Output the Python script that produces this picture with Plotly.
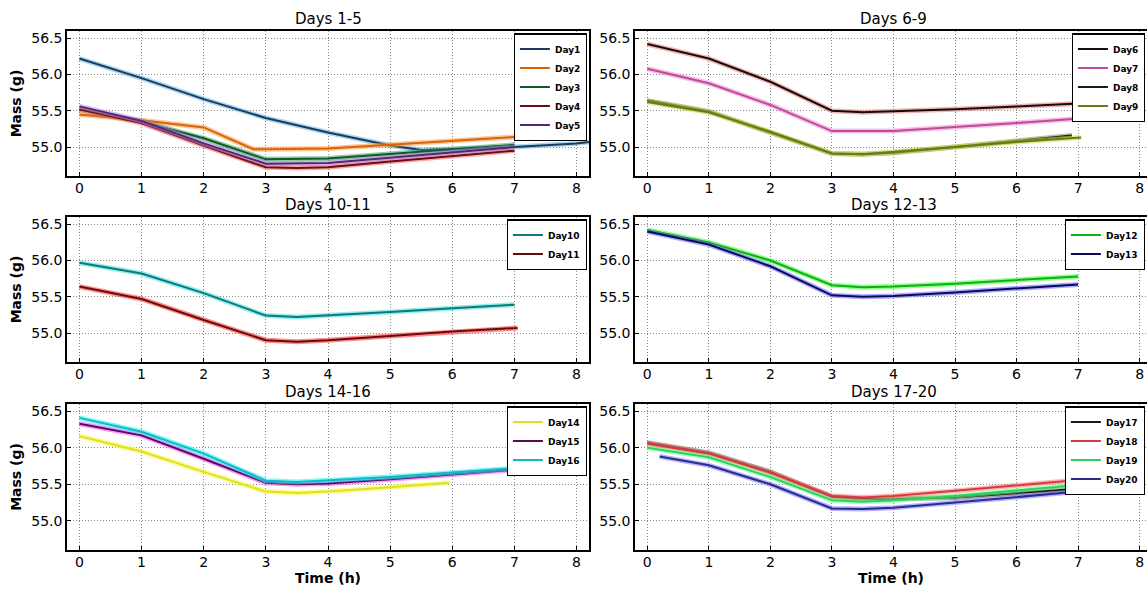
import plotly.graph_objects as go

# ---------------- data ----------------
# Days 1-5
day1_t = [0, 1, 2, 3, 4, 5, 5.5, 6, 7, 8, 8.2]
day1_m = [56.22, 55.95, 55.66, 55.40, 55.20, 55.02, 54.96, 54.97, 55.00, 55.05, 55.07]
day2_t = [0, 1, 2, 2.8, 3, 4, 5, 6, 7.05]
day2_m = [55.45, 55.37, 55.27, 54.97, 54.97, 54.98, 55.03, 55.08, 55.14]
day3_t = [0, 1, 2, 3, 4, 5, 6, 7]
day3_m = [55.52, 55.35, 55.12, 54.83, 54.84, 54.90, 54.97, 55.03]
day4_t = [0, 1, 2, 3, 3.5, 4, 5, 6, 7]
day4_m = [55.52, 55.33, 55.02, 54.72, 54.71, 54.72, 54.80, 54.88, 54.95]
day5_t = [0, 1, 2, 3, 4, 5, 6, 7]
day5_m = [55.56, 55.36, 55.05, 54.77, 54.78, 54.85, 54.93, 55.00]
# Days 6-9
day6_t = [0, 1, 2, 2.5, 3, 3.5, 4, 5, 6, 7]
day6_m = [56.42, 56.22, 55.90, 55.70, 55.50, 55.48, 55.49, 55.52, 55.56, 55.60]
day7_t = [0, 1, 2, 3, 4, 5, 6, 7.15]
day7_m = [56.08, 55.88, 55.58, 55.22, 55.22, 55.27, 55.33, 55.40]
day8_t = [0, 1, 2, 3, 3.5, 4, 5, 6, 6.9]
day8_m = [55.64, 55.49, 55.20, 54.91, 54.90, 54.92, 55.00, 55.08, 55.16]
day9_t = [0, 1, 2, 3, 3.5, 4, 5, 6, 7.05]
day9_m = [55.62, 55.48, 55.21, 54.91, 54.90, 54.93, 55.00, 55.07, 55.13]
# Days 10-11
day10_t = [0, 1, 2, 3, 3.5, 4, 5, 6, 7]
day10_m = [55.97, 55.82, 55.55, 55.24, 55.22, 55.24, 55.29, 55.34, 55.39]
day11_t = [0, 1, 2, 3, 3.5, 4, 5, 6, 7.05]
day11_m = [55.64, 55.47, 55.18, 54.90, 54.88, 54.90, 54.96, 55.02, 55.07]
# Days 12-13
day12_t = [0, 1, 2, 3, 3.5, 4, 5, 6, 7]
day12_m = [56.42, 56.25, 56.00, 55.66, 55.63, 55.64, 55.68, 55.73, 55.78]
day13_t = [0, 1, 2, 3, 3.5, 4, 5, 6, 7]
day13_m = [56.40, 56.22, 55.92, 55.52, 55.50, 55.51, 55.56, 55.62, 55.67]
# Days 14-16
day14_t = [0, 1, 2, 3, 3.5, 4, 5, 5.95]
day14_m = [56.16, 55.95, 55.67, 55.40, 55.38, 55.40, 55.46, 55.52]
day15_t = [0, 1, 2, 3, 3.5, 4, 5, 6, 7]
day15_m = [56.33, 56.17, 55.85, 55.52, 55.50, 55.51, 55.57, 55.63, 55.70]
day16_t = [0, 1, 2, 3, 3.5, 4, 5, 6, 7]
day16_m = [56.41, 56.22, 55.92, 55.55, 55.53, 55.55, 55.60, 55.66, 55.72]
# Days 17-20
day17_t = [0, 1, 2, 3, 3.5, 4, 5, 6, 7]
day17_m = [56.07, 55.93, 55.67, 55.33, 55.30, 55.30, 55.32, 55.38, 55.44]
day18_t = [0, 1, 2, 3, 3.5, 4, 5, 6, 7]
day18_m = [56.06, 55.92, 55.66, 55.34, 55.32, 55.34, 55.41, 55.48, 55.56]
day19_t = [0, 1, 2, 3, 3.5, 4, 5, 6, 7]
day19_m = [56.00, 55.87, 55.60, 55.28, 55.26, 55.28, 55.34, 55.41, 55.49]
day20_t = [0.2, 1, 2, 3, 3.5, 4, 5, 6, 7]
day20_m = [55.88, 55.76, 55.50, 55.17, 55.16, 55.18, 55.25, 55.33, 55.40]

panel_titles = ["Days 1-5", "Days 6-9", "Days 10-11", "Days 12-13", "Days 14-16", "Days 17-20"]
x_ticks = [0, 1, 2, 3, 4, 5, 6, 7, 8]
y_ticks = [55.0, 55.5, 56.0, 56.5]

# (name, t, m, halo colour, core colour) per panel
panels = [
    [("Day1", day1_t, day1_m, "#5fb8e6", "#1c3a5e"),
     ("Day2", day2_t, day2_m, "#ff9a3c", "#d9640a"),
     ("Day3", day3_t, day3_m, "#3aa05a", "#0f5a2a"),
     ("Day4", day4_t, day4_m, "#ff5a5a", "#6a0d14"),
     ("Day5", day5_t, day5_m, "#c080e0", "#4a2a70")],
    [("Day6", day6_t, day6_m, "#e87a7a", "#1a0a0a"),
     ("Day7", day7_t, day7_m, "#f08ad0", "#c04a98"),
     ("Day8", day8_t, day8_m, "#8a8a3a", "#1a1a1a"),
     ("Day9", day9_t, day9_m, "#c8e040", "#6a7a1a")],
    [("Day10", day10_t, day10_m, "#40e0e0", "#0a7a7a"),
     ("Day11", day11_t, day11_m, "#ff3030", "#6a0a0a")],
    [("Day12", day12_t, day12_m, "#30ff30", "#10b010"),
     ("Day13", day13_t, day13_m, "#6a6aff", "#0a0a5a")],
    [("Day14", day14_t, day14_m, "#f8f840", "#e0e020"),
     ("Day15", day15_t, day15_m, "#ff40ff", "#5a0a5a"),
     ("Day16", day16_t, day16_m, "#20f0f0", "#10b8c8")],
    [("Day17", day17_t, day17_m, "#7a5a4a", "#1a1a1a"),
     ("Day18", day18_t, day18_m, "#ff7a7a", "#d83a3a"),
     ("Day19", day19_t, day19_m, "#70ff90", "#30d060"),
     ("Day20", day20_t, day20_m, "#7a7aff", "#2a2a90")],
]

W, H = 1147, 592
x_domains = [[67 / W, 589 / W], [635 / W, 1.0]]
x_ranges = [[-0.2, 8.2], [-0.2, 8.12]]
rows_px = [(31, 176), (217, 362), (404, 550)]
y_domains = [[1 - b / H, 1 - t / H] for t, b in rows_px]
y_range = [54.6, 56.6]

FONT = "DejaVu Sans"
fig = go.Figure()
layout = dict(
    width=W, height=H, margin=dict(l=0, r=0, t=0, b=0, autoexpand=False),
    paper_bgcolor="white", plot_bgcolor="white",
    font=dict(family=FONT, color="black"), showlegend=True,
)
annotations = []

for i, series in enumerate(panels):
    row, col = divmod(i, 2)
    n = i + 1
    xa = "x" if n == 1 else f"x{n}"
    ya = "y" if n == 1 else f"y{n}"
    leg = "legend" if n == 1 else f"legend{n}"
    for name, t, m, halo, core in series:
        fig.add_trace(go.Scatter(x=t, y=m, mode="lines", xaxis=xa, yaxis=ya,
                                 line=dict(color=halo, width=5), opacity=0.55,
                                 showlegend=False, hoverinfo="skip"))
        fig.add_trace(go.Scatter(x=t, y=m, mode="lines", name=name, xaxis=xa, yaxis=ya,
                                 line=dict(color=core, width=2), legend=leg))
    axis_common = dict(showline=True, mirror=True, linecolor="black", linewidth=1.5,
                       showgrid=True, gridcolor="#8a8a8a", griddash="1px,2px", gridwidth=1,
                       ticks="inside", ticklen=4, tickcolor="black", zeroline=False,
                       automargin=False,
                       tickfont=dict(family=FONT, size=14, color="black"))
    xkey = "xaxis" if n == 1 else f"xaxis{n}"
    ykey = "yaxis" if n == 1 else f"yaxis{n}"
    layout[xkey] = dict(axis_common, domain=x_domains[col], range=x_ranges[col],
                        tickvals=x_ticks, anchor=ya, ticklabelstandoff=-2)
    layout[ykey] = dict(axis_common, domain=y_domains[row], range=y_range,
                        tickvals=y_ticks, tickformat=".1f", anchor=xa)
    if row == 2:
        layout[xkey]["title"] = dict(text="Time (h)",
                                     font=dict(size=14, family=FONT, weight="bold"),
                                     standoff=0)
    if col == 0:
        layout[ykey]["title"] = dict(text="Mass (g)",
                                     font=dict(size=14, family=FONT, weight="bold"),
                                     standoff=6)
    # legend inside top-right of the panel
    layout[leg] = dict(x=x_domains[col][1] - 0.002, y=y_domains[row][1] - 0.004,
                       xanchor="right", yanchor="top", bgcolor="white",
                       bordercolor="black", borderwidth=1.2,
                       font=dict(family=FONT, size=9, color="black", weight="bold"),
                       tracegroupgap=0, itemwidth=30)
    cx = (x_domains[col][0] + x_domains[col][1]) / 2 if col == 0 else (635 / W + 1152 / W) / 2
    annotations.append(dict(text=panel_titles[i], xref="paper", yref="paper",
                            x=cx, y=y_domains[row][1], yshift=1,
                            xanchor="center", yanchor="bottom",
                            showarrow=False, font=dict(family=FONT, size=15, color="black")))

layout["annotations"] = annotations
fig.update_layout(**layout)
fig.write_html("out.html", config={"displayModeBar": False},
               post_script="document.body.style.margin='0px';")
